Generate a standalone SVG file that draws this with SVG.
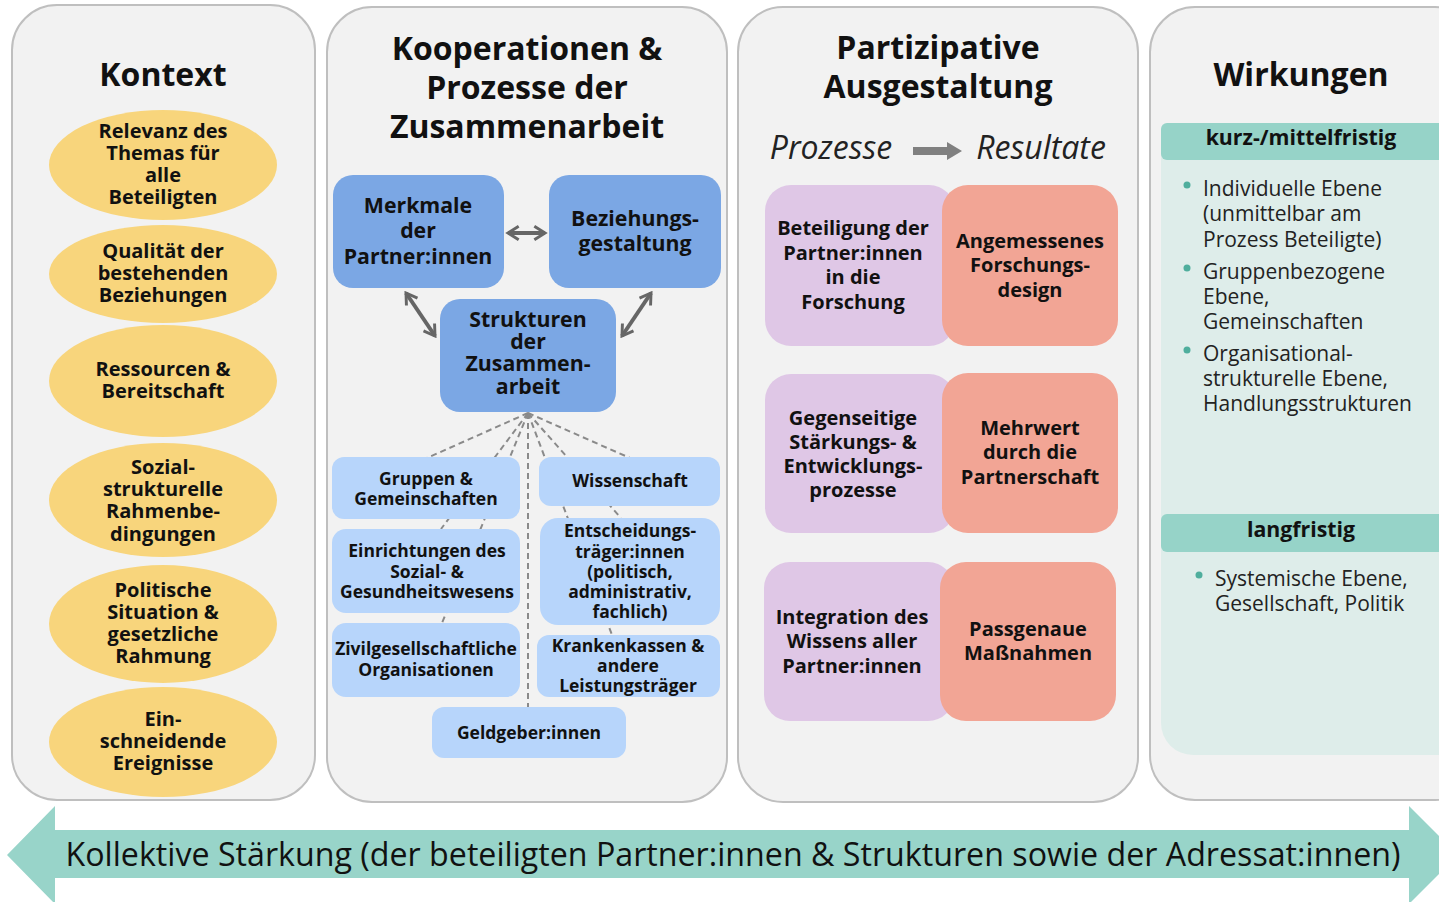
<svg xmlns="http://www.w3.org/2000/svg" width="1439" height="902" viewBox="0 0 1439 902">
<defs>
<style>
.panel{fill:#f2f2f2;stroke:#bfbfbf;stroke-width:2}
.t{font-family:"Open Sans","Liberation Sans",sans-serif;fill:#111;text-anchor:middle}
.h{font-size:32px;font-weight:700}
.b19{font-size:20px;font-weight:700}
.b20{font-size:21.3px;font-weight:700}
.b17{font-size:17.5px;font-weight:700}
.ell{fill:#f8d57c}
.dark{fill:#7ba7e4}
.light{fill:#b7d5fb}
.pur{fill:#dfc7e6}
.sal{fill:#f2a595}
.dash{stroke:#8a8a8a;stroke-width:2;stroke-dasharray:6,4;fill:none}
.dbl{stroke:#666;stroke-width:4;fill:none}
.reg{font-family:"Open Sans","Liberation Sans",sans-serif;fill:#222;font-size:21px}
.teal{fill:#96d3c8}
</style>
<marker id="chev" viewBox="0 0 12 12" refX="10" refY="6" markerWidth="4" markerHeight="4" orient="auto-start-reverse" markerUnits="strokeWidth">
<path d="M2,1 L10,6 L2,11" fill="none" stroke="#666" stroke-width="2.2"/>
</marker>
</defs>
<rect width="1439" height="902" fill="#ffffff"/>

<!-- Panels -->
<g id="panel-kontext">
<rect class="panel" x="12" y="5" width="303" height="795" rx="45"/>
<text class="t h" x="163" y="86">Kontext</text>
</g>
<g id="panel-kooperation">
<rect class="panel" x="327" y="7" width="400" height="795" rx="45"/>
<text class="t h" x="527" y="60">Kooperationen &amp;</text>
<text class="t h" x="527" y="99">Prozesse der</text>
<text class="t h" x="527" y="138">Zusammenarbeit</text>
</g>
<g id="panel-partizipation">
<rect class="panel" x="738" y="7" width="400" height="795" rx="45"/>
<text class="t h" x="938" y="59">Partizipative</text>
<text class="t h" x="938" y="98">Ausgestaltung</text>
</g>
<g id="panel-wirkungen">
<rect class="panel" x="1150" y="7" width="330" height="793" rx="45"/>
<text class="t h" x="1301" y="86">Wirkungen</text>
</g>

<!-- Kontext ellipses -->
<g id="k1"><ellipse class="ell" cx="163" cy="165" rx="114" ry="55"/>
<text class="t b19" x="163" y="138">Relevanz des</text><text class="t b19" x="163" y="160">Themas für</text><text class="t b19" x="163" y="182">alle</text><text class="t b19" x="163" y="204">Beteiligten</text></g>
<g id="k2"><ellipse class="ell" cx="163" cy="274" rx="114" ry="49"/>
<text class="t b19" x="163" y="258">Qualität der</text><text class="t b19" x="163" y="280">bestehenden</text><text class="t b19" x="163" y="302">Beziehungen</text></g>
<g id="k3"><ellipse class="ell" cx="163" cy="381" rx="114" ry="56"/>
<text class="t b19" x="163" y="376">Ressourcen &amp;</text><text class="t b19" x="163" y="398">Bereitschaft</text></g>
<g id="k4"><ellipse class="ell" cx="163" cy="500" rx="114" ry="57"/>
<text class="t b19" x="163" y="474">Sozial-</text><text class="t b19" x="163" y="496">strukturelle</text><text class="t b19" x="163" y="518">Rahmenbe-</text><text class="t b19" x="163" y="541">dingungen</text></g>
<g id="k5"><ellipse class="ell" cx="163" cy="624" rx="114" ry="59"/>
<text class="t b19" x="163" y="597">Politische</text><text class="t b19" x="163" y="619">Situation &amp;</text><text class="t b19" x="163" y="641">gesetzliche</text><text class="t b19" x="163" y="663">Rahmung</text></g>
<g id="k6"><ellipse class="ell" cx="163" cy="742" rx="114" ry="55"/>
<text class="t b19" x="163" y="726">Ein-</text><text class="t b19" x="163" y="748">schneidende</text><text class="t b19" x="163" y="770">Ereignisse</text></g>

<!-- Connectors -->
<g id="connectors">
<line class="dash" x1="528" y1="413" x2="427" y2="458"/>
<line class="dash" x1="528" y1="413" x2="441" y2="529"/>
<line class="dash" x1="528" y1="413" x2="442" y2="623"/>
<line class="dash" x1="528" y1="413" x2="528" y2="707"/>
<line class="dash" x1="528" y1="413" x2="612" y2="635"/>
<line class="dash" x1="528" y1="413" x2="621" y2="518"/>
<line class="dash" x1="528" y1="413" x2="630" y2="458"/>
<line class="dbl" x1="508" y1="233" x2="545" y2="233" marker-start="url(#chev)" marker-end="url(#chev)"/>
<line class="dbl" x1="406" y1="293" x2="435" y2="336" marker-start="url(#chev)" marker-end="url(#chev)"/>
<line class="dbl" x1="651" y1="293" x2="622" y2="336" marker-start="url(#chev)" marker-end="url(#chev)"/>
</g>

<!-- Middle dark boxes -->
<g id="merkmale"><rect class="dark" x="333" y="175" width="171" height="113" rx="20"/>
<text class="t b20" x="418" y="213">Merkmale</text><text class="t b20" x="418" y="238">der</text><text class="t b20" x="418" y="264">Partner:innen</text></g>
<g id="beziehung"><rect class="dark" x="549" y="175" width="172" height="113" rx="20"/>
<text class="t b20" x="635" y="226">Beziehungs-</text><text class="t b20" x="635" y="251">gestaltung</text></g>
<g id="strukturen"><rect class="dark" x="440" y="299" width="176" height="113" rx="20"/>
<text class="t b20" x="528" y="327">Strukturen</text><text class="t b20" x="528" y="349">der</text><text class="t b20" x="528" y="371">Zusammen-</text><text class="t b20" x="528" y="394">arbeit</text></g>

<!-- Middle light boxes -->
<g id="gruppen"><rect class="light" x="332" y="457" width="188" height="62" rx="12"/>
<text class="t b17" x="426" y="485">Gruppen &amp;</text><text class="t b17" x="426" y="505">Gemeinschaften</text></g>
<g id="wissenschaft"><rect class="light" x="539" y="457" width="181" height="49" rx="12"/>
<text class="t b17" x="630" y="487">Wissenschaft</text></g>
<g id="einrichtungen"><rect class="light" x="332" y="529" width="188" height="84" rx="14"/>
<text class="t b17" x="427" y="557">Einrichtungen des</text><text class="t b17" x="427" y="578">Sozial- &amp;</text><text class="t b17" x="427" y="598">Gesundheitswesens</text></g>
<g id="entscheidung"><rect class="light" x="540" y="518" width="180" height="107" rx="18"/>
<text class="t b17" x="630" y="537">Entscheidungs-</text><text class="t b17" x="630" y="558">träger:innen</text><text class="t b17" x="630" y="578">(politisch,</text><text class="t b17" x="630" y="598">administrativ,</text><text class="t b17" x="630" y="618">fachlich)</text></g>
<g id="zivil"><rect class="light" x="332" y="623" width="188" height="74" rx="14"/>
<text class="t b17" x="426" y="655">Zivilgesellschaftliche</text><text class="t b17" x="426" y="676">Organisationen</text></g>
<g id="krankenkassen"><rect class="light" x="537" y="635" width="183" height="62" rx="12"/>
<text class="t b17" x="628" y="652">Krankenkassen &amp;</text><text class="t b17" x="628" y="672">andere</text><text class="t b17" x="628" y="692">Leistungsträger</text></g>
<g id="geldgeber"><rect class="light" x="432" y="707" width="194" height="51" rx="12"/>
<text class="t b17" x="529" y="739">Geldgeber:innen</text></g>

<!-- Partizipative -->
<g id="prozess-resultat">
<text class="t" x="831" y="159" style="font-size:32px;font-style:italic;fill:#222">Prozesse</text>
<text class="t" x="1041" y="159" style="font-size:32px;font-style:italic;fill:#222">Resultate</text>
<path d="M913,147 H947 V142 L962,151 L947,160 V155 H913 Z" fill="#808080"/>
</g>
<g id="p1"><rect class="pur" x="765" y="185" width="190" height="161" rx="26"/>
<text class="t b19" x="853" y="235">Beteiligung der</text><text class="t b19" x="853" y="260">Partner:innen</text><text class="t b19" x="853" y="284">in die</text><text class="t b19" x="853" y="309">Forschung</text></g>
<g id="r1"><rect class="sal" x="942" y="185" width="176" height="161" rx="26"/>
<text class="t b19" x="1030" y="248">Angemessenes</text><text class="t b19" x="1030" y="272">Forschungs-</text><text class="t b19" x="1030" y="297">design</text></g>
<g id="p2"><rect class="pur" x="765" y="374" width="190" height="159" rx="26"/>
<text class="t b19" x="853" y="425">Gegenseitige</text><text class="t b19" x="853" y="449">Stärkungs- &amp;</text><text class="t b19" x="853" y="473">Entwicklungs-</text><text class="t b19" x="853" y="497">prozesse</text></g>
<g id="r2"><rect class="sal" x="942" y="373" width="176" height="160" rx="26"/>
<text class="t b19" x="1030" y="435">Mehrwert</text><text class="t b19" x="1030" y="459">durch die</text><text class="t b19" x="1030" y="484">Partnerschaft</text></g>
<g id="p3"><rect class="pur" x="764" y="562" width="190" height="159" rx="26"/>
<text class="t b19" x="852" y="624">Integration des</text><text class="t b19" x="852" y="648">Wissens aller</text><text class="t b19" x="852" y="673">Partner:innen</text></g>
<g id="r3"><rect class="sal" x="940" y="562" width="176" height="159" rx="26"/>
<text class="t b19" x="1028" y="636">Passgenaue</text><text class="t b19" x="1028" y="660">Maßnahmen</text></g>

<!-- Wirkungen content -->
<g id="wirkungen-inhalt">
<rect x="1161" y="123" width="310" height="632" rx="32" fill="#deedea"/>
<rect class="teal" x="1161" y="123" width="300" height="37" rx="6"/>
<text class="t b20" x="1301" y="145">kurz-/mittelfristig</text>
<circle cx="1187" cy="185" r="3.5" fill="#4fae9d"/>
<text class="reg" x="1203" y="196">Individuelle Ebene</text>
<text class="reg" x="1203" y="221">(unmittelbar am</text>
<text class="reg" x="1203" y="247">Prozess Beteiligte)</text>
<circle cx="1187" cy="268" r="3.5" fill="#4fae9d"/>
<text class="reg" x="1203" y="279">Gruppenbezogene</text>
<text class="reg" x="1203" y="304">Ebene,</text>
<text class="reg" x="1203" y="329">Gemeinschaften</text>
<circle cx="1187" cy="350" r="3.5" fill="#4fae9d"/>
<text class="reg" x="1203" y="361">Organisational-</text>
<text class="reg" x="1203" y="386">strukturelle Ebene,</text>
<text class="reg" x="1203" y="411">Handlungsstrukturen</text>
<rect class="teal" x="1161" y="514" width="300" height="38" rx="6"/>
<text class="t b20" x="1301" y="537">langfristig</text>
<circle cx="1199" cy="575" r="3.5" fill="#4fae9d"/>
<text class="reg" x="1215" y="586">Systemische Ebene,</text>
<text class="reg" x="1215" y="611">Gesellschaft, Politik</text>
</g>

<!-- Bottom arrow -->
<g id="kollektive-staerkung">
<path d="M7,855 L55,806 V830 H1409 V806 L1458,855 L1409,904 V878 H55 V904 Z" fill="#98d4c9"/>
<text class="t" x="733" y="866" style="font-size:32.2px;fill:#111">Kollektive Stärkung (der beteiligten Partner:innen &amp; Strukturen sowie der Adressat:innen)</text>
</g>
</svg>
